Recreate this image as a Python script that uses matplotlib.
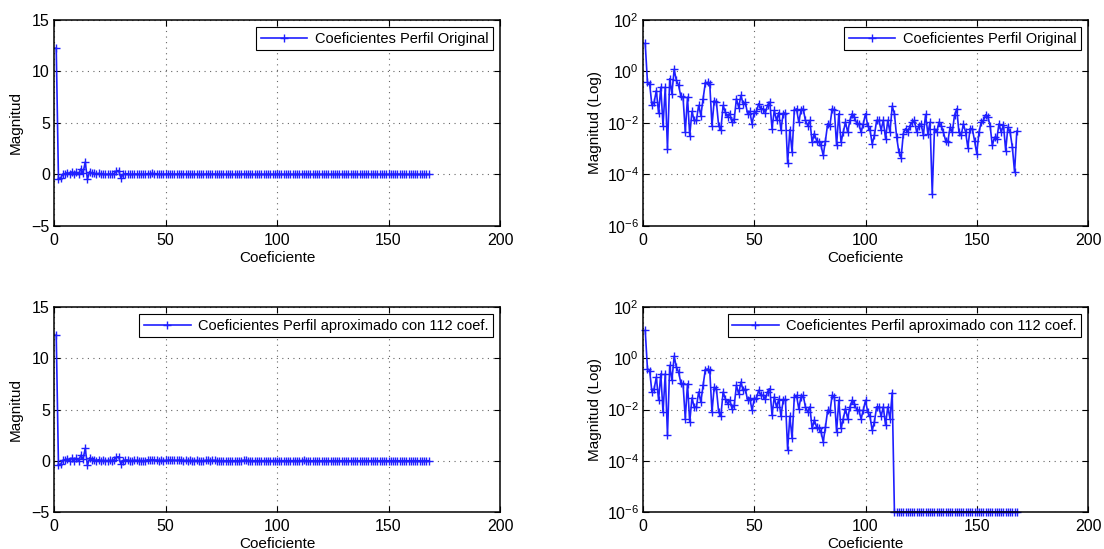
import matplotlib
matplotlib.use("Agg")
import matplotlib.pyplot as plt
import numpy as np

plt.rcParams["font.family"] = ["Liberation Sans", "DejaVu Sans"]
plt.rcParams["font.size"] = 10

# DCT coefficients of the original profile (index 1..168)
coef_head = [12.3, -0.389, -0.331, 0.0479, 0.0646, 0.182, 0.0234, 0.245, 0.00794, 0.245,
             0.001, 0.525, 0.138, 1.20, -0.45, 0.288, 0.110, 0.100, 0.00437, 0.100,
             0.00324, 0.0282, 0.0126, 0.0126, 0.0479, 0.0195, 0.0871, 0.355, 0.380, -0.339]
coef_mid = [0.00794, 0.0741, 0.0631, 0.00794, 0.00550, 0.0479, 0.0263, 0.0170, 0.0229, 0.0107,
            0.0145, 0.0871, 0.0398, 0.117, 0.0562, 0.0631, 0.0229, 0.0282, 0.00933, 0.0251,
            0.0282, 0.0562, 0.0355, 0.0355, 0.0251, 0.0501, 0.0646, 0.00603, 0.0309, 0.0126,
            0.0251, 0.00550, 0.0229, 0.0251, 0.000269, 0.00550, 0.000741, 0.0309, 0.0355, 0.0107,
            0.0309, 0.0355, 0.0126, 0.00794, 0.0126, 0.00182, 0.00389, 0.00209, 0.00182, 0.00135,
            0.000550, 0.00209, 0.00933, 0.00794, 0.0355, 0.0316, 0.00135, 0.0229, 0.00182, 0.00437,
            0.0107, 0.00437, 0.0126, 0.0229, 0.0170, 0.0100, 0.00933, 0.00437, 0.00933, 0.0229,
            0.00794, 0.00550, 0.00155, 0.00331, 0.0126, 0.0126, 0.00550, 0.0126, 0.00245, 0.0126,
            0.00437, 0.0447]
coef_tail = [0.0229, 0.00282, 0.000741, 0.000447, 0.00389, 0.00603, 0.00437, 0.00794, 0.0107, 0.0126,
             0.00437, 0.00794, 0.00933, 0.00331, 0.0214, 0.00389, 0.0107, 0.0000178, 0.00603, 0.00437,
             0.0107, 0.00794, 0.00437, 0.00209, 0.00182, 0.00692, 0.00437, 0.0200, 0.0355, 0.00437,
             0.00331, 0.00933, 0.00437, 0.00110, 0.00603, 0.00603, 0.00209, 0.000646, 0.00437, 0.0107,
             0.0126, 0.0209, 0.0170, 0.00794, 0.00135, 0.00282, 0.00245, 0.00933, 0.00437, 0.00871,
             0.000851, 0.00692, 0.00437, 0.00115, 0.000123, 0.00479]

N_KEEP = 112
LOG_FLOOR = 1e-6

coef = np.array(coef_head + coef_mid + coef_tail)
idx = np.arange(1, len(coef) + 1)
approx = np.where(idx <= N_KEEP, coef, 0.0)

BLUE = "#1f1fff"


def style_axes(ax, log=False):
    ax.set_xlim(0, 200)
    ax.set_xticks([0, 50, 100, 150, 200])
    if log:
        ax.set_yscale("log")
        ax.set_ylim(1e-6, 1e2)
        ax.set_yticks([1e-6, 1e-4, 1e-2, 1e0, 1e2])
        ax.yaxis.set_minor_locator(matplotlib.ticker.NullLocator())
        ax.set_ylabel("Magnitud (Log)", fontsize=11, labelpad=3)
    else:
        ax.set_ylim(-5, 15)
        ax.set_yticks([-5, 0, 5, 10, 15])
        ax.set_ylabel("Magnitud", fontsize=11, labelpad=6)
    ax.set_xlabel("Coeficiente", fontsize=11, labelpad=2)
    ax.grid(True, linestyle=(0, (1, 4)), color="#666666", linewidth=0.8)
    ax.tick_params(direction="in", top=True, right=True, length=4, labelsize=11.5)
    ax.tick_params(axis="x", pad=5)
    ax.tick_params(axis="y", pad=3)
    for s in ax.spines.values():
        s.set_linewidth(1.1)
    leg = ax.legend(loc="upper right", fancybox=False, framealpha=1, edgecolor="black",
                    fontsize=10.5, borderaxespad=0.5, handlelength=3.2, handletextpad=0.5,
                    borderpad=0.3)
    leg.get_frame().set_linewidth(0.8)


fig = plt.figure(figsize=(11.04, 5.49), dpi=100)
W, H = 1104, 549
ax_tl = fig.add_axes([54 / W, 1 - 226 / H, 446 / W, 206 / H])
ax_tr = fig.add_axes([643 / W, 1 - 226 / H, 445 / W, 206 / H])
ax_bl = fig.add_axes([54 / W, 1 - 512 / H, 446 / W, 205 / H])
ax_br = fig.add_axes([643 / W, 1 - 512 / H, 445 / W, 205 / H])

line_kw = dict(color=BLUE, marker="+", markersize=5.5, linewidth=1.2, markeredgewidth=1.0)

ax_tl.plot(idx, coef, label="Coeficientes Perfil Original", **line_kw)
style_axes(ax_tl)

ax_tr.plot(idx, np.abs(coef), label="Coeficientes Perfil Original", **line_kw)
style_axes(ax_tr, log=True)

ax_bl.plot(idx, approx, label="Coeficientes Perfil aproximado con 112 coef.", **line_kw)
style_axes(ax_bl)

ax_br.plot(idx, np.maximum(np.abs(approx), LOG_FLOOR), clip_on=False,
           label="Coeficientes Perfil aproximado con 112 coef.", **line_kw)
style_axes(ax_br, log=True)

fig.savefig("out.png", dpi=100)
